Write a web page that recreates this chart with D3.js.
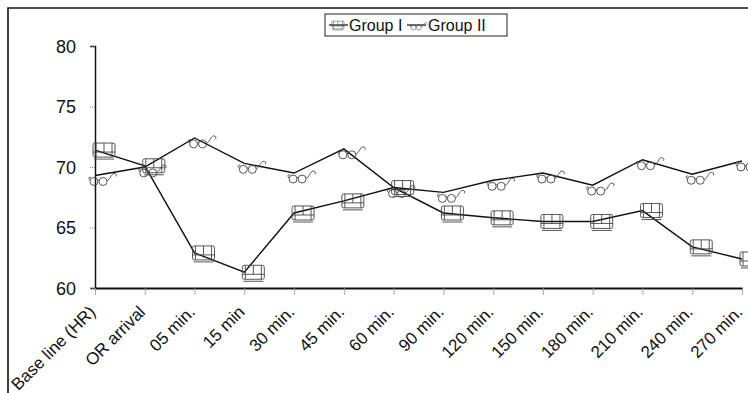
<!DOCTYPE html>
<html>
<head>
<meta charset="utf-8">
<script src="https://cdn.jsdelivr.net/npm/d3@7"></script>
<style>
  html, body { margin: 0; padding: 0; background: #fff; }
  svg { display: block; font-family: Arial, "Liberation Sans", sans-serif; }
</style>
</head>
<body>
<svg id="chart" width="748" height="393"></svg>
<script>
// Heart rate over time for the two study groups
const categories = ["Base line (HR)", "OR arrival", "05 min.", "15 min", "30 min.", "45 min.", "60 min.",
  "90 min.", "120 min.", "150 min.", "180 min.", "210 min.", "240 min.", "270 min."];
const groupI  = [71.4, 70.1, 62.9, 61.3, 66.2, 67.2, 68.3, 66.2, 65.8, 65.5, 65.5, 66.4, 63.4, 62.4];
const groupII = [69.3, 70.0, 72.4, 70.3, 69.5, 71.5, 68.3, 67.9, 68.9, 69.5, 68.5, 70.6, 69.4, 70.5];
const yTicks = [60, 65, 70, 75, 80];
const seriesNames = ["Group I", "Group II"];

const svg = d3.select("#chart");

const x = d3.scalePoint().domain(categories).range([95, 742]);
const y = d3.scaleLinear().domain([60, 80]).range([288, 46]);

// outer frame (top and left edges)
svg.append("path")
  .attr("d", "M8,393 V8 H748")
  .attr("fill", "none").attr("stroke", "#111").attr("stroke-width", 1.6);

// y axis
const yAxis = svg.append("g").attr("transform", "translate(95,0)")
  .call(d3.axisLeft(y).tickValues(yTicks).tickSize(5).tickPadding(14).tickFormat(d3.format("d")));
yAxis.select(".domain").attr("stroke", "#111").attr("stroke-width", 1.5);
yAxis.selectAll(".tick line").attr("stroke", "#777").attr("stroke-dasharray", "1,1");
yAxis.selectAll(".tick text").attr("font-size", 18).attr("fill", "#111")
  .attr("font-family", "Arial, 'Liberation Sans', sans-serif")
  .attr("dy", "0.36em");

// x axis
const xAxis = svg.append("g").attr("transform", "translate(0,288)")
  .call(d3.axisBottom(x).tickSize(7).tickSizeOuter(0));
xAxis.select(".domain").attr("stroke", "#111").attr("stroke-width", 2);
xAxis.selectAll(".tick line").attr("stroke", "#777").attr("stroke-dasharray", "1.5,1");
xAxis.selectAll(".tick text")
  .attr("font-size", 17).attr("fill", "#111")
  .attr("font-family", "Arial, 'Liberation Sans', sans-serif")
  .attr("text-anchor", "end")
  .attr("x", 0).attr("y", 0).attr("dy", 0)
  .attr("transform", "translate(1,25) rotate(-45)");

const line = d3.line().x((d, i) => x(categories[i])).y(d => y(d));

// series lines
[groupI, groupII].forEach(vals => {
  svg.append("path").datum(vals)
    .attr("d", line)
    .attr("fill", "none").attr("stroke", "#111").attr("stroke-width", 1.4);
});

// marker glyphs
function drawChair(g) {
  g.append("rect").attr("x", -2).attr("y", -7).attr("width", 22).attr("height", 14).attr("rx", 2);
  g.append("path").attr("d", "M-2,2 H20 M9,-7 V2 M1,-7 V7 M17,-7 V7 M-1,9 H19");
}
function drawGlasses(g) {
  g.append("circle").attr("cx", -1).attr("cy", 6).attr("r", 4);
  g.append("circle").attr("cx", 8).attr("cy", 6).attr("r", 4);
  g.append("path").attr("d", "M3,5 Q3.5,3.5 4,5 M12,5 C15,5 16,-2 19,-2 C21,-2 22,-1 21,1 M-5,5 C-7,3 -6,1 -4,2");
}

const markerStyle = g => g.attr("fill", "none").attr("stroke", "#444").attr("stroke-width", 0.9);

svg.append("g").call(markerStyle)
  .selectAll("g").data(groupI).join("g")
  .attr("transform", (d, i) => `translate(${x(categories[i])},${y(d)})`)
  .each(function () { drawChair(d3.select(this)); });

svg.append("g").call(markerStyle)
  .selectAll("g").data(groupII).join("g")
  .attr("transform", (d, i) => `translate(${x(categories[i])},${y(d)})`)
  .each(function () { drawGlasses(d3.select(this)); });

// legend
const legend = svg.append("g");
legend.append("rect").attr("x", 325).attr("y", 14).attr("width", 182).attr("height", 22)
  .attr("fill", "#fff").attr("stroke", "#222").attr("stroke-width", 1);

const leg1 = legend.append("g").attr("transform", "translate(329,25)");
leg1.append("line").attr("x1", 0).attr("x2", 19).attr("y1", 0).attr("y2", 0).attr("stroke", "#111").attr("stroke-width", 1.2);
leg1.append("g").attr("transform", "translate(4,0) scale(0.55)").call(markerStyle).each(function () { drawChair(d3.select(this)); });
legend.append("text").attr("x", 349).attr("y", 31).attr("font-size", 16).attr("fill", "#111").text(seriesNames[0]);

const leg2 = legend.append("g").attr("transform", "translate(407,25)");
leg2.append("line").attr("x1", 0).attr("x2", 19).attr("y1", 0).attr("y2", 0).attr("stroke", "#111").attr("stroke-width", 1.2);
leg2.append("g").attr("transform", "translate(7,-1) scale(0.6)").call(markerStyle).each(function () { drawGlasses(d3.select(this)); });
legend.append("text").attr("x", 428).attr("y", 31).attr("font-size", 16).attr("fill", "#111").text(seriesNames[1]);
</script>
</body>
</html>
